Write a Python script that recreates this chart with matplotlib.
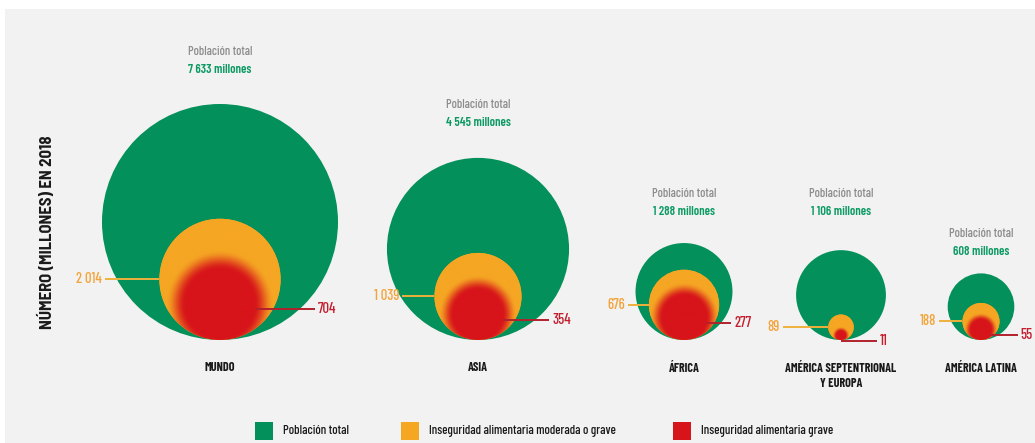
import numpy as np
import matplotlib
matplotlib.use("Agg")
import matplotlib.pyplot as plt
from matplotlib.patches import Circle, Rectangle

# ---------------- data ----------------
categories = ["MUNDO", "ASIA", "ÁFRICA", "AMÉRICA SEPTENTRIONAL\nY EUROPA", "AMÉRICA LATINA"]
total_pop = [7633, 4545, 1288, 1106, 608]          # Población total (millones)
moderate_or_severe = [2014, 1039, 676, 89, 188]    # Inseguridad alimentaria moderada o grave
severe = [704, 354, 277, 11, 55]                   # Inseguridad alimentaria grave
legend_labels = ["Población total", "Inseguridad alimentaria moderada o grave",
                 "Inseguridad alimentaria grave"]
ylabel = "NÚMERO (MILLONES) EN 2018"

# ---------------- style / layout ----------------
FONT = ["Barlow Condensed", "DejaVu Sans"]
plt.rcParams["font.family"] = FONT
GREEN = "#03905a"
ORANGE = "#f5a623"
RED = "#d7141a"
GREEN_TXT = "#0c9a63"
ORANGE_TXT = "#f2a43a"
RED_TXT = "#c41e2e"
GRAY_TXT = "#8c8c8c"
BG = "#f2f2f2"

W, H = 1035, 443
centers_x = [220, 478, 684, 841, 981]
baseline = 340
scale = 118 / np.sqrt(7633)        # radius per sqrt(million)
title_y = [70, 123, 212, 212, 252]  # y of the "xxx millones" line
left_gap = [12, -2, 9, 27, 12]      # leader-line start, left of outer circle edge
right_ext = [15, 14, 10, 36, 19]    # leader-line end, right of outer circle edge


def fmt(v):
    return f"{v:,}".replace(",", " ")


def half_width(r, dy):
    return np.sqrt(max(r ** 2 - dy ** 2, 0))


fig = plt.figure(figsize=(W / 100, H / 100), dpi=100)
fig.patch.set_facecolor("white")
ax = fig.add_axes([0, 0, 1, 1])
ax.set_xlim(0, W)
ax.set_ylim(H, 0)
ax.axis("off")

ax.add_patch(Rectangle((5, 9), W - 5, H - 9, facecolor=BG, edgecolor="none", zorder=0))

orange_rgb = np.array(matplotlib.colors.to_rgb(ORANGE))
red_rgb = np.array(matplotlib.colors.to_rgb(RED))

for i, cat in enumerate(categories):
    cx = centers_x[i]
    rg = scale * np.sqrt(total_pop[i])
    ro = scale * np.sqrt(moderate_or_severe[i])
    rr = scale * np.sqrt(severe[i])
    cyg, cyo, cyr = baseline - rg, baseline - ro, baseline - rr

    ax.add_patch(Circle((cx, cyg), rg, facecolor=GREEN, edgecolor="none", zorder=1))
    oc = Circle((cx, cyo), ro, facecolor=ORANGE, edgecolor="none", zorder=2)
    ax.add_patch(oc)

    # blurred red core inside the orange circle
    n = 300
    xs = np.linspace(cx - ro, cx + ro, n)
    ys = np.linspace(cyo - ro, cyo + ro, n)
    X, Y = np.meshgrid(xs, ys)
    d = np.sqrt((X - cx) ** 2 + (Y - cyr) ** 2)
    halo = 0.5 * rr + 2
    t = np.clip((d - rr * 0.95) / halo, 0, 1)
    w = 1 - (3 * t ** 2 - 2 * t ** 3)
    img = w[..., None] * red_rgb + (1 - w[..., None]) * orange_rgb
    im = ax.imshow(img, extent=(cx - ro, cx + ro, cyo + ro, cyo - ro), origin="upper",
                   interpolation="bilinear", zorder=3)
    im.set_clip_path(oc)

    # titles
    ax.text(cx, title_y[i] - 18, "Población total", ha="center", va="center",
            fontsize=9, color=GRAY_TXT, fontweight=500)
    ax.text(cx, title_y[i], f"{fmt(total_pop[i])} millones", ha="center", va="center",
            fontsize=9, color=GREEN_TXT, fontweight=600)

    # category label
    ax.text(cx, baseline + 22, cat, ha="center", va="top", fontsize=8.8,
            fontweight="bold", color="#1a1a1a", linespacing=1.4)

    # left label (moderate or severe)
    yl = cyo
    x_start = cx - half_width(rg, yl - cyg) - left_gap[i]
    ax.plot([x_start, cx - half_width(ro, yl - cyo)], [yl, yl],
            color="#eeb13c", lw=1.4, zorder=4, solid_capstyle="butt")
    ax.text(x_start - 3, yl, fmt(moderate_or_severe[i]), ha="right", va="center",
            fontsize=10.5, color=ORANGE_TXT, fontweight=500)

    # right label (severe)
    yr = cyr + 5
    x_end = cx + half_width(rg, yr - cyg) + right_ext[i]
    x_red = cx + half_width(rr, yr - cyr)
    ax.plot([x_red, x_end], [yr, yr], color="#b1222c", lw=1.4, zorder=4,
            solid_capstyle="butt")
    ax.text(x_end + 3, yr, fmt(severe[i]), ha="left", va="center",
            fontsize=10.5, color=RED_TXT, fontweight=500)

# y-axis label
ax.text(46, 232, ylabel, rotation=90, ha="center", va="center", fontsize=12,
        fontweight="bold", color="#1a1a1a",
        family=["Barlow Semi Condensed", "DejaVu Sans"])

# legend
leg_colors = [GREEN, ORANGE, RED]
leg_x = [255, 401, 673]
for lx, lc, lt in zip(leg_x, leg_colors, legend_labels):
    ax.add_patch(Rectangle((lx, 422), 18, 18, facecolor=lc, edgecolor="none", zorder=2))
    ax.text(lx + 28, 431, lt, ha="left", va="center", fontsize=9.2, color="#1a1a1a",
            fontweight=500)

fig.savefig("out.png", dpi=100, facecolor=fig.get_facecolor())
